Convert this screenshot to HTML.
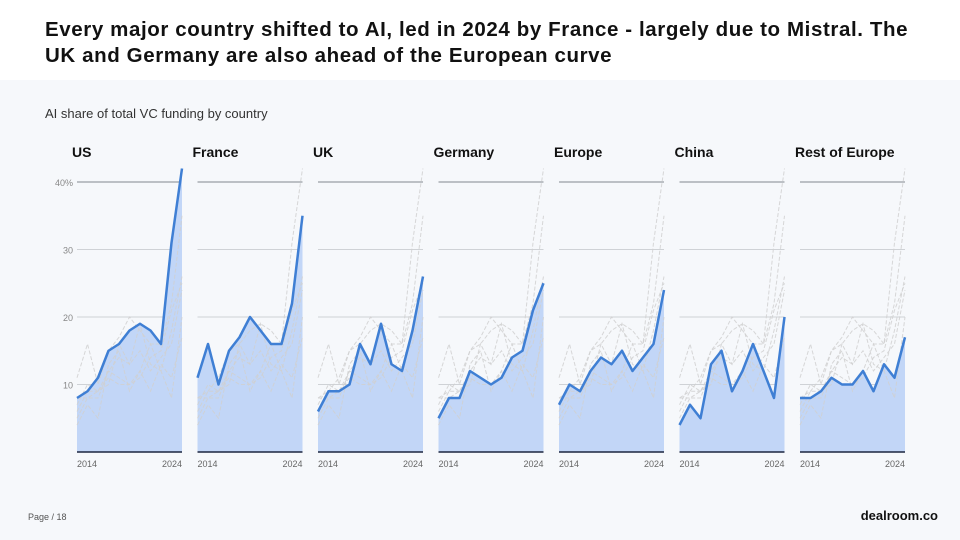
<!DOCTYPE html>
<html><head><meta charset="utf-8"><style>
body{margin:0;width:960px;height:540px;overflow:hidden;background:#fff;font-family:"Liberation Sans",sans-serif}
#hdr{position:absolute;left:45px;top:17px;font-size:20.5px;font-weight:bold;line-height:26px;color:#111;width:900px;letter-spacing:0.6px;white-space:nowrap}
#panel{position:absolute;left:0;top:80px;width:960px;height:460px;background:#f6f8fb}
#sub{position:absolute;left:45px;top:106px;font-size:13px;color:#333}
#logo{position:absolute;right:22px;top:508px;font-size:13px;font-weight:bold;color:#111}
#pg{position:absolute;left:28px;top:512px;font-size:9px;color:#555}
svg{position:absolute;left:0;top:0}
</style></head><body>
<div id="hdr">Every major country shifted to AI, led in 2024 by France - largely due to Mistral. The<br>UK and Germany are also ahead of the European curve</div>
<div id="panel"></div>
<div id="sub">AI share of total VC funding by country</div>
<div id="pg">Page / 18</div>
<div id="logo">dealroom.co</div>
<svg id="chart" width="960" height="540"></svg>
<script>
const countries=["US","France","UK","Germany","Europe","China","Rest of Europe"];
const years=[2014,2015,2016,2017,2018,2019,2020,2021,2022,2023,2024];
const us=[8,9,11,15,16,18,19,18,16,31,42];
const france=[11,16,10,15,17,20,18,16,16,22,35];
const uk=[6,9,9,10,16,13,19,13,12,18,26];
const germany=[5,8,8,12,11,10,11,14,15,21,25];
const europe=[7,10,9,12,14,13,15,12,14,16,24];
const china=[4,7,5,13,15,9,12,16,12,8,20];
const restEurope=[8,8,9,11,10,10,12,9,13,11,17];
const yTicks=[10,20,30,40];
const series=[us,france,uk,germany,europe,china,restEurope];
const NS="http://www.w3.org/2000/svg";
const svg=document.getElementById('chart');
const panelX0=77,panelStep=120.5,panelW=105,y0=452,pxPerUnit=6.75;
function yS(v){return y0-v*pxPerUnit;}
function mk(t,a,p){const e=document.createElementNS(NS,t);for(const k in a)e.setAttribute(k,a[k]);(p||svg).appendChild(e);return e;}
countries.forEach((c,i)=>{
  const px=panelX0+i*panelStep;
  const xS=j=>px+(years[j]-years[0])/(years[years.length-1]-years[0])*panelW;
  const g=mk('g',{});
  
  
  const t=mk('text',{x:px-5,y:157,'font-size':14,'font-weight':'bold',fill:'#111'},g);t.textContent=c;
  
  
  yTicks.forEach(v=>{
    const l=mk('line',{x1:px,x2:px+panelW,y1:yS(v),y2:yS(v),stroke:v==40?'#a9adb3':'#cfd2d6','stroke-width':v==40?1.5:1},g);
    
    
    if(i==0){const tl=mk('text',{x:px-4,y:yS(v)+4,'font-size':9,fill:'#888','text-anchor':'end'},g);tl.textContent=v==40?'40%':v;
      
      }
  });
  const d=series[i];
  let area='M'+xS(0)+','+y0;d.forEach((v,j)=>area+=' L'+xS(j)+','+yS(v));area+=' L'+xS(d.length-1)+','+y0+'Z';
  const a=mk('path',{d:area,fill:'#c2d6f7'},g);
  
  
  series.forEach((s,k)=>{if(k==i)return;
    const p=mk('path',{d:s.map((v,j)=>(j?'L':'M')+xS(j)+','+yS(v)).join(' '),fill:'none',stroke:'#d0d0d0','stroke-width':1,'stroke-dasharray':'4,2','stroke-opacity':0.85},g);
    
    
  });
  const ln=mk('path',{d:d.map((v,j)=>(j?'L':'M')+xS(j)+','+yS(v)).join(' '),fill:'none',stroke:'#3f7fd4','stroke-width':2.5,'stroke-linejoin':'round'},g);
  
  
  const b=mk('line',{x1:px,x2:px+panelW,y1:y0,y2:y0,stroke:'#1c2640','stroke-width':1.5},g);
  
  
  [0,years.length-1].forEach(j=>{
    const tx=mk('text',{x:xS(j),y:467,'font-size':9,fill:'#666','text-anchor':j?'end':'start'},g);tx.textContent=years[j];
    
    
  });
});
</script>
</body></html>
